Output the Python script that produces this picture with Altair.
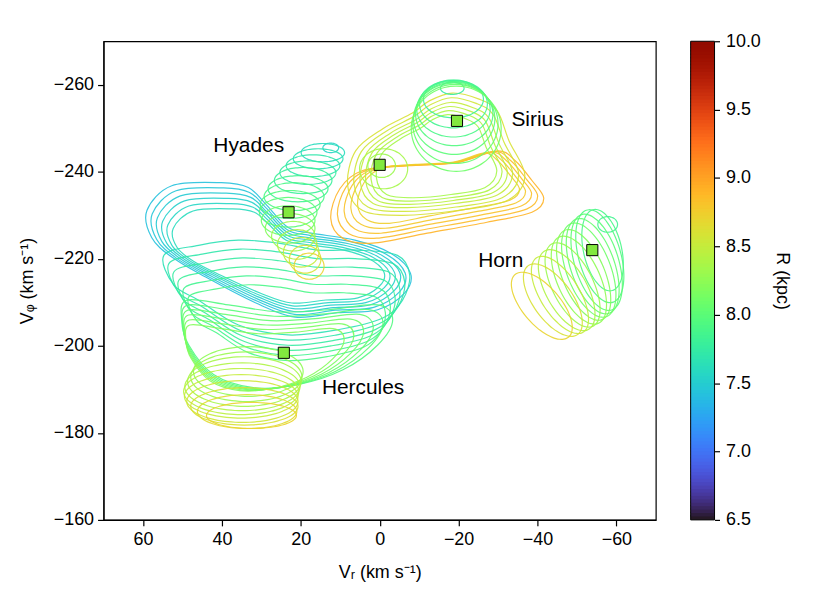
import numpy as np
import pandas as pd
import altair as alt

FONT = "Liberation Sans"

# ---------------- elliptical contours (R in kpc, centres / semi-axes in km/s, tilt in deg) ----
# Horn
horn_R    = [7.85, 7.9, 7.95, 8.0, 8.05, 8.1, 8.2, 8.25, 8.3, 8.4, 8.5, 8.6, 8.7]
horn_vr   = [-57.8, -56.5, -55.8, -55.0, -54.0, -53.0, -51.7, -50.5, -48.9, -47.4, -45.7, -43.9, -41.1]
horn_vphi = [-227.9, -222.0, -220.6, -219.2, -218.3, -217.4, -216.3, -215.1, -214.0, -212.8, -211.7, -210.5, -209.2]
horn_a    = [2.5, 9.6, 11.1, 11.6, 11.6, 11.6, 11.3, 11.1, 10.8, 10.6, 10.4, 10.1, 9.9]
horn_b    = [1.8, 4.8, 5.3, 5.5, 5.5, 5.5, 5.3, 5.3, 5.1, 5.1, 4.8, 4.8, 4.6]
horn_tilt = [0, 75, 72, 70, 68, 66, 64, 62, 60, 57, 54, 50, 45]

# Sirius dome
dome_R    = [7.75, 7.8, 7.85, 7.9, 7.95, 8.0, 8.05, 8.1]
dome_vr   = [-18.4, -18.7, -18.7, -18.7, -18.9, -18.9, -19.2, -19.4]
dome_vphi = [-259.2, -256.7, -255.6, -254.4, -253.3, -252.2, -251.0, -249.9]
dome_a    = [3.0, 7.6, 8.6, 9.3, 9.8, 10.3, 10.8, 11.4]
dome_b    = [1.4, 4.3, 5.5, 6.4, 7.3, 8.2, 9.1, 9.8]

# small contours around the (0, -241) peak
core_R    = [8.3, 8.35]
core_vr   = [-0.5, -1.0]
core_vphi = [-241.4, -240.7]
core_a    = [3.5, 6.1]
core_b    = [2.7, 4.6]

# Hyades chain
hya_R    = [7.55, 7.6, 7.65, 7.7, 7.75, 7.8, 7.85, 7.9, 7.95, 8.0, 8.1, 8.2, 8.3, 8.4, 8.5, 8.6, 8.7]
hya_vr   = [12.4, 14.4, 15.6, 16.9, 18.2, 19.4, 20.7, 21.7, 22.7, 23.2, 23.2, 22.7, 21.9, 20.9, 19.9, 18.9, 17.9]
hya_vphi = [-245.5, -244.4, -243.0, -241.4, -239.8, -238.0, -236.1, -234.3, -232.5, -230.7,
            -228.8, -227.0, -225.2, -223.3, -221.5, -219.9, -218.3]
hya_a    = [2.0, 5.5, 6.3, 6.8, 7.1, 7.3, 7.6, 7.6, 7.6, 7.3, 6.8, 6.3, 5.5, 5.0, 4.5, 4.0, 3.8]
hya_b    = [1.1, 2.1, 2.3, 2.5, 2.7, 3.0, 3.0, 3.2, 3.2, 3.4, 3.4, 3.4, 3.4, 3.4, 3.4, 3.2, 3.0]

# Hercules lower stack
her_R    = [8.25, 8.3, 8.35, 8.4, 8.45, 8.5, 8.55, 8.6, 8.65, 8.7]
her_vr   = [33.3, 33.8, 34.3, 34.8, 35.1, 35.1, 34.8, 34.3, 33.6, 32.5]
her_vphi = [-194.1, -192.9, -191.8, -190.6, -189.5, -188.4, -187.2, -186.1, -184.9, -184.0]
her_a    = [13.9, 14.1, 14.4, 14.6, 14.6, 14.4, 14.1, 13.6, 12.6, 11.4]
her_b    = [5.7, 5.7, 5.7, 5.5, 5.3, 5.0, 4.8, 4.3, 3.9, 3.0]

# ---------------- irregular contour families: outer outline + nested copies ----------------
# Hercules cyan (large boomerang)
cyan_vr   = [59.0, 52.7, 40.1, 33.3, 29.0, 23.2, 17.4, 6.3, -2.8, -7.8, -6.3, 0.5, 10.6, 21.4, 31.5, 44.1, 52.7, 57.8]
cyan_vphi = [-231.1, -236.8, -237.5, -236.4, -232.7, -227.2, -225.9, -224.3, -221.3, -216.7,
             -212.1, -208.3, -207.6, -206.6, -209.9, -215.8, -220.4, -224.9]
cyan_pivot = (25.7, -217.4)
cyan_R     = [7.42, 7.45, 7.48, 7.52, 7.56, 7.60]
cyan_sx    = [1.0, 0.96, 0.92, 0.88, 0.84, 0.80]
cyan_sy    = [1.0, 0.94, 0.88, 0.82, 0.76, 0.70]
cyan_dphi  = [0, 0, 0, 0, 0, 0]

# Hercules cyan-green wavy contours
wave_vr   = [54.7, 45.9, 35.8, 25.7, 15.6, 5.5, -4.5, -7.6, -5.8, -0.8, 10.6, 23.2, 35.8, 45.9, 52.2]
wave_vphi = [-220.8, -223.1, -224.3, -223.6, -222.0, -222.0, -220.8, -216.3, -210.5, -206.4,
             -203.7, -202.5, -204.8, -210.5, -214.0]
wave_pivot = (23.2, -210.5)
wave_R     = [7.65, 7.7, 7.75, 7.8, 7.85, 7.9]
wave_sx    = [1.0, 0.96, 0.92, 0.88, 0.84, 0.80]
wave_sy    = [1.0, 0.96, 0.92, 0.88, 0.84, 0.80]
wave_dphi  = [0, 1.5, 3.0, 4.5, 6.0, 7.5]

# Hercules green fan
fan_vr   = [48.9, 38.3, 25.7, 13.1, 0.5, -3.3, 0.5, 9.3, 20.7, 32.0, 42.1, 48.4, 50.2]
fan_vphi = [-210.5, -209.4, -207.8, -208.3, -209.4, -206.0, -200.2, -194.5, -191.1, -190.4,
            -193.4, -200.2, -206.0]
fan_pivot = (45.9, -187.7)
fan_R     = [7.95, 8.0, 8.05, 8.1, 8.15, 8.2]
fan_sx    = [1.0, 0.95, 0.90, 0.85, 0.80, 0.75]
fan_sy    = [1.0, 0.95, 0.90, 0.85, 0.80, 0.75]
fan_dphi  = [0, 0, 0, 0, 0, 0]

# Sirius bridge (yellow-green)
bri_vr   = [8.1, 6.1, -0.8, -8.3, -12.6, -18.4, -25.2, -29.8, -32.8, -36.8, -32.3, -19.7, -5.8, 4.3]
bri_vphi = [-236.8, -244.8, -249.9, -253.5, -256.3, -258.1, -256.7, -254.0, -247.1, -239.1,
            -233.4, -231.1, -230.0, -231.1]
bri_pivot = (-14.6, -242.6)
bri_R     = [8.6, 8.55, 8.5, 8.45, 8.4, 8.35]
bri_sx    = [1.0, 0.93, 0.86, 0.80, 0.74, 0.68]
bri_sy    = [1.0, 0.93, 0.86, 0.80, 0.74, 0.68]
bri_dphi  = [0, 0, 0, 0, 0, 0]

# Sirius outer (orange)
org_vr   = [12.4, 10.1, 4.3, -7.1, -19.7, -29.8, -34.3, -38.6, -41.6, -38.6, -27.2, -12.1, 1.8, 9.3]
org_vphi = [-229.3, -236.1, -240.3, -241.4, -242.1, -244.8, -242.6, -238.0, -233.9, -230.7,
            -228.4, -225.9, -223.6, -224.7]
org_pivot = (-15.9, -242.6)
org_R     = [8.9, 8.86, 8.82, 8.78, 8.74]
org_sx    = [1.0, 0.94, 0.88, 0.82, 0.76]
org_sy    = [1.0, 0.94, 0.88, 0.82, 0.76]
org_dphi  = [0, 0, 0, 0, 0]

# ---------------- peaks and labels ----------------
sq_vr   = [23.1, 0.0, -19.6, -53.9, 24.3]
sq_vphi = [-230.7, -241.6, -251.7, -222.0, -198.4]

label_text = ["Hyades", "Sirius", "Horn", "Hercules"]
label_vr   = [33.2, -40.0, -30.7, 4.2]
label_vphi = [-246.0, -251.9, -219.5, -190.2]

# ---------------- colour bar ----------------
R_MIN, R_MAX = 6.5, 10.0
cbar_ticks = [6.5, 7.0, 7.5, 8.0, 8.5, 9.0, 9.5, 10.0]
cbar_step = 0.025

# ---------------- build tables ----------------
rows = []
cid = [0]


def add_ellipses(Rs, cxs, cys, As, Bs, tilts=None, n=48):
    if tilts is None:
        tilts = [0] * len(Rs)
    t = np.linspace(0, 2 * np.pi, n, endpoint=False)
    for R, cx, cy, a, b, tl in zip(Rs, cxs, cys, As, Bs, tilts):
        th = np.deg2rad(tl)
        dx = a * np.cos(t) * np.cos(th) - b * np.sin(t) * np.sin(th)
        dy = a * np.cos(t) * np.sin(th) + b * np.sin(t) * np.cos(th)
        for k in range(n):
            rows.append({"cid": cid[0], "i": k, "vr": cx - dx[k], "vphi": cy + dy[k], "R": R})
        cid[0] += 1


def add_family(tvr, tvphi, pivot, Rs, sxs, sys_, dphis):
    tvr = np.array(tvr)
    tvphi = np.array(tvphi)
    for R, sx, sy, dp in zip(Rs, sxs, sys_, dphis):
        xs = pivot[0] + sx * (tvr - pivot[0])
        ys = pivot[1] + sy * (tvphi - pivot[1]) + dp
        for k in range(len(xs)):
            rows.append({"cid": cid[0], "i": k, "vr": xs[k], "vphi": ys[k], "R": R})
        cid[0] += 1


add_family(cyan_vr, cyan_vphi, cyan_pivot, cyan_R, cyan_sx, cyan_sy, cyan_dphi)
add_family(wave_vr, wave_vphi, wave_pivot, wave_R, wave_sx, wave_sy, wave_dphi)
add_family(fan_vr, fan_vphi, fan_pivot, fan_R, fan_sx, fan_sy, fan_dphi)
add_ellipses(her_R, her_vr, her_vphi, her_a, her_b)
add_ellipses(hya_R, hya_vr, hya_vphi, hya_a, hya_b)
add_family(org_vr, org_vphi, org_pivot, org_R, org_sx, org_sy, org_dphi)
add_family(bri_vr, bri_vphi, bri_pivot, bri_R, bri_sx, bri_sy, bri_dphi)
add_ellipses(core_R, core_vr, core_vphi, core_a, core_b)
add_ellipses(dome_R, dome_vr, dome_vphi, dome_a, dome_b)
add_ellipses(horn_R, horn_vr, horn_vphi, horn_a, horn_b, horn_tilt)

df = pd.DataFrame(rows)
sq_df = pd.DataFrame({"vr": sq_vr, "vphi": sq_vphi})
lab_df = pd.DataFrame({"name": label_text, "vr": label_vr, "vphi": label_vphi})

lo = np.arange(R_MIN, R_MAX, cbar_step)
cb_df = pd.DataFrame({"lo": lo, "hi": np.minimum(lo + cbar_step * 1.4, R_MAX),
                      "mid": lo + cbar_step / 2})
cb_frame = pd.DataFrame({"lo": [R_MIN], "hi": [R_MAX]})

cscale = alt.Scale(scheme="turbo", domain=[R_MIN, R_MAX])
xscale = alt.Scale(domain=[-70, 70], reverse=True, nice=False, zero=False)
yscale = alt.Scale(domain=[-270, -160], reverse=True, nice=False, zero=False)
rscale = alt.Scale(domain=[R_MIN, R_MAX], nice=False, zero=False)

xaxis = alt.Axis(values=[60, 40, 20, 0, -20, -40, -60], title="Vᵣ (km s⁻¹)",
                 tickSize=6, labelPadding=5, titlePadding=15)
yaxis = alt.Axis(orient="left", values=[-260, -240, -220, -200, -180, -160],
                 title="Vᵩ (km s⁻¹)", tickSize=6, labelPadding=4, titlePadding=17)

lines = alt.Chart(df).mark_line(interpolate="cardinal-closed", strokeWidth=1.2,
                                opacity=0.9, clip=True).encode(
    x=alt.X("vr:Q", scale=xscale, axis=xaxis),
    y=alt.Y("vphi:Q", scale=yscale, axis=yaxis),
    color=alt.Color("R:Q", scale=cscale, legend=None),
    detail="cid:N",
    order="i:Q",
)

squares = alt.Chart(sq_df).mark_square(size=125, fill="#82E83F", stroke="black",
                                       strokeWidth=1, opacity=1).encode(
    x=alt.X("vr:Q", scale=xscale), y=alt.Y("vphi:Q", scale=yscale, axis=None))

labels = alt.Chart(lab_df).mark_text(fontSize=21, font=FONT, color="black").encode(
    x=alt.X("vr:Q", scale=xscale), y=alt.Y("vphi:Q", scale=yscale, axis=None),
    text="name:N")

cbar_axis = alt.Axis(orient="right", offset=59, values=cbar_ticks, format=".1f",
                     title="R (kpc)", titleAngle=90, titlePadding=12, domain=False,
                     tickSize=5, labelPadding=6, labelBaseline="middle")

cbar = alt.Chart(cb_df).mark_rect(clip=False).encode(
    y=alt.Y("lo:Q", scale=rscale, axis=cbar_axis),
    y2="hi:Q",
    x=alt.value(590), x2=alt.value(614),
    color=alt.Color("mid:Q", scale=cscale, legend=None),
)

cbar_box = alt.Chart(cb_frame).mark_rect(clip=False, fill=None, stroke="black",
                                         strokeWidth=1).encode(
    y=alt.Y("lo:Q", scale=rscale, axis=None),
    y2="hi:Q",
    x=alt.value(590), x2=alt.value(614),
)

chart = alt.layer(lines, squares, labels, cbar, cbar_box).resolve_scale(
    y="independent").properties(
    width=555, height=481,
    autosize=alt.AutoSizeParams(type="none"),
    padding={"left": 96, "top": 32, "right": 168, "bottom": 63},
).configure_view(stroke="black", strokeWidth=1.2).configure_axis(
    grid=False, domainColor="black", tickColor="black", labelColor="black",
    titleColor="black", labelFont=FONT, titleFont=FONT, labelFontSize=18,
    titleFontSize=18, titleFontWeight="normal", domainWidth=1.2, tickWidth=1.2,
)

chart.save("out.html", embed_options={"renderer": "svg", "actions": False})
